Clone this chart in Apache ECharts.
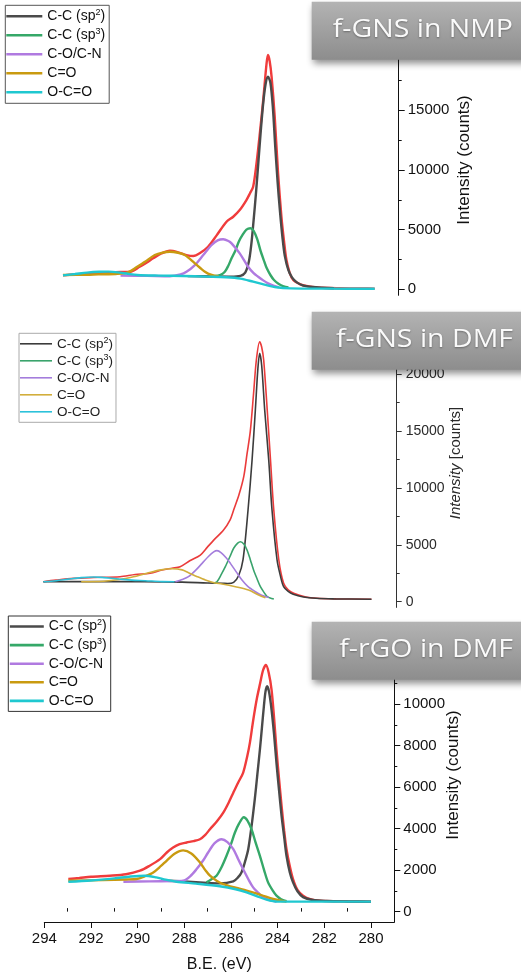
<!DOCTYPE html>
<html>
<head>
<meta charset="utf-8">
<script src="https://cdn.jsdelivr.net/npm/echarts@6/dist/echarts.min.js"></script>
<style>
html,body{margin:0;padding:0;background:#fff;}
#chart{width:521px;height:974px;}
</style>
</head>
<body>
<div id="chart"></div>
<script>
// ---------- DATA (binding energy eV, intensity counts) ----------
const componentNames = ['C-C (sp²)', 'C-C (sp³)', 'C-O/C-N', 'C=O', 'O-C=O'];
const panelTitles = ['f-GNS in NMP', 'f-GNS in DMF', 'f-rGO in DMF'];
const yTitles = ['Intensity (counts)', 'Intensity [counts]', 'Intensity (counts)'];
const xTitle = 'B.E. (eV)';
const xTickLabels = [294, 292, 290, 288, 286, 284, 282, 280];
const yTicks1 = [0, 5000, 10000, 15000];
const yTicks2 = [0, 5000, 10000, 15000, 20000];
const yTicks3 = [0, 2000, 4000, 6000, 8000, 10000];

// Panel 1: f-GNS in NMP
const nmpEnvelope = [[293.0,1170],[292.5,1250],[292.0,1320],[291.46,1390],[291.0,1420],[290.6,1450],[290.2,1475],[289.8,1890],[289.5,2250],[289.24,2600],[288.9,3000],[288.54,3230],[288.2,3100],[287.85,2870],[287.57,2790],[287.3,3015],[286.95,3570],[286.6,4500],[286.18,5660],[285.9,6080],[285.63,6640],[285.35,7480],[285.2,8050],[285.07,8590],[284.93,10550],[284.79,13080],[284.65,15850],[284.51,18930],[284.45,19620],[284.38,19100],[284.3,17800],[284.17,14450],[284.03,9720],[283.89,6080],[283.78,4000],[283.68,2450],[283.55,1400],[283.4,780],[283.1,420],[282.85,280],[282.4,150],[281.5,90],[280.5,70],[280.0,60]];
const nmpSp2 = [[287.8,1110],[286.8,1080],[286.0,1060],[285.6,1130],[285.4,1400],[285.25,2300],[285.15,3700],[285.05,5800],[284.95,8100],[284.85,10700],[284.75,13300],[284.65,15600],[284.55,17200],[284.45,17800],[284.35,17300],[284.25,15300],[284.15,12000],[284.05,9000],[283.95,6500],[283.85,4400],[283.75,2800],[283.6,1600],[283.45,1000],[283.25,580],[283.0,330],[282.6,190],[282.2,130],[281.7,90]];
const nmpSp3 = [[286.7,1100],[286.45,1200],[286.25,1475],[286.1,2000],[285.97,2600],[285.8,3300],[285.67,3990],[285.5,4600],[285.35,5000],[285.18,5110],[285.05,4900],[284.9,4200],[284.75,3150],[284.6,2300],[284.5,1760],[284.35,1200],[284.2,780],[284.0,450],[283.8,250],[283.6,150]];
const nmpCO = [[290.6,1150],[289.5,1130],[288.54,1100],[288.1,1250],[287.85,1475],[287.5,2035],[287.15,2870],[286.8,3710],[286.55,4100],[286.32,4190],[286.1,4050],[285.97,3850],[285.63,3015],[285.28,1890],[285.05,1350],[284.86,1055],[284.65,750],[284.45,500],[284.2,280],[284.0,170]];
const nmpCdO = [[293.0,1200],[292.0,1220],[291.53,1255],[290.8,1290],[290.42,1340],[290.2,1500],[290.0,1760],[289.58,2310],[289.17,2870],[288.85,3080],[288.54,3150],[288.2,3060],[287.92,2870],[287.5,2175],[287.08,1475],[286.8,1200],[286.5,1080]];
const nmpOCO = [[293.0,1170],[292.5,1280],[292.0,1400],[291.5,1470],[291.1,1480],[290.7,1420],[290.3,1300],[289.9,1200],[289.0,1150],[288.0,1120],[287.0,1060],[286.2,1010],[285.6,900],[285.07,640],[284.6,400],[284.1,170],[283.5,80],[282.0,60],[280.0,50]];

// Panel 2: f-GNS in DMF
const dmfEnvelope = [[293.0,1760],[292.5,1900],[291.8,2055],[291.0,2130],[289.96,2200],[289.36,2400],[288.77,2500],[288.3,2790],[287.9,2950],[287.58,3080],[287.2,3600],[286.78,4107],[286.5,4800],[286.25,5420],[285.86,6305],[285.6,7200],[285.46,8065],[285.25,9400],[285.06,11000],[284.93,13000],[284.8,15000],[284.67,18330],[284.56,21260],[284.43,22870],[284.35,22400],[284.27,21260],[284.13,16860],[284.0,12460],[283.87,8065],[283.67,3670],[283.48,1620],[283.3,1050],[283.08,740],[282.6,420],[282.15,300],[281.4,250],[280.0,220]];
const dmfSp2 = [[293.0,1760],[291.0,1770],[289.0,1760],[287.5,1720],[286.5,1650],[285.9,1620],[285.7,1600],[285.46,1700],[285.26,2300],[285.09,3670],[284.89,8065],[284.73,12460],[284.6,16860],[284.5,20500],[284.43,21850],[284.35,20800],[284.23,16860],[284.07,12460],[283.94,8065],[283.74,3670],[283.6,2200],[283.48,1320],[283.3,900],[283.1,650],[282.7,420],[282.2,300],[281.5,250],[280.0,220]];
const dmfSp3 = [[286.25,1640],[286.12,1760],[285.95,2400],[285.79,3080],[285.6,4000],[285.46,4700],[285.3,5150],[285.19,5280],[285.05,5050],[284.93,4550],[284.8,3700],[284.67,2790],[284.53,2000],[284.4,1320],[284.25,800],[284.13,440],[283.95,280],[283.87,250]];
const dmfCO = [[287.77,1760],[287.5,1950],[287.25,2200],[286.95,2800],[286.71,3375],[286.45,4000],[286.25,4380],[286.12,4490],[285.95,4300],[285.75,3850],[285.59,3375],[285.35,2600],[285.13,1910],[284.9,1350],[284.6,880],[284.35,560],[284.07,380]];
const dmfCdO = [[291.5,1760],[290.6,1800],[290.0,1950],[289.43,2200],[288.9,2500],[288.4,2780],[287.9,2900],[287.5,2800],[287.25,2550],[286.9,2200],[286.58,1910],[286.2,1650],[285.92,1560],[285.39,1320],[284.87,1030],[284.47,590],[284.2,350]];
const dmfOCO = [[293.0,1760],[292.5,1850],[292.0,1990],[291.5,2120],[291.0,2180],[290.6,2120],[290.0,2000],[289.5,1900],[288.96,1850],[288.3,1770],[287.8,1760]];

// Panel 3: f-rGO in DMF
const rgoEnvelope = [[292.97,1570],[292.5,1620],[292.0,1680],[291.19,1730],[290.5,1800],[289.9,1970],[289.5,2200],[289.04,2530],[288.75,2850],[288.48,3090],[288.2,3250],[287.9,3330],[287.6,3400],[287.33,3490],[287.1,3700],[286.9,3970],[286.6,4350],[286.33,4770],[286.1,5250],[285.9,5730],[285.7,6200],[285.48,6690],[285.3,7500],[285.19,8130],[285.05,9200],[284.9,10210],[284.75,11000],[284.62,11645],[284.5,11885],[284.38,11500],[284.26,10685],[284.15,9300],[284.05,7805],[283.94,6400],[283.83,5085],[283.72,3900],[283.62,3010],[283.48,2200],[283.34,1570],[283.15,1050],[282.91,770],[282.6,600],[282.19,530],[281.0,500],[280.0,480]];
const rgoSp2 = [[289.0,1500],[288.0,1450],[287.0,1380],[286.48,1360],[285.9,1460],[285.7,1650],[285.55,1890],[285.4,2400],[285.26,3010],[285.12,4100],[284.98,5410],[284.87,6600],[284.76,7805],[284.67,8900],[284.59,9885],[284.52,10600],[284.45,10860],[284.37,10600],[284.26,9725],[284.15,8500],[284.05,7170],[283.94,5850],[283.83,4605],[283.72,3600],[283.62,2690],[283.48,1900],[283.34,1410],[283.15,980],[282.91,700],[282.5,560],[281.9,510],[281.0,490],[280.0,480]];
const rgoSp3 = [[287.05,1410],[286.85,1550],[286.62,1730],[286.4,2150],[286.19,2690],[286.0,3250],[285.83,3810],[285.65,4250],[285.45,4550],[285.3,4400],[285.12,3970],[284.95,3350],[284.76,2690],[284.58,2000],[284.41,1410],[284.2,1000],[284.05,770],[283.85,600],[283.62,500]];
const rgoCO = [[290.61,1440],[289.5,1460],[288.5,1470],[288.05,1490],[287.75,1700],[287.47,2050],[287.2,2450],[286.98,2850],[286.7,3300],[286.4,3490],[286.15,3350],[285.9,3010],[285.7,2550],[285.48,2050],[285.25,1550],[285.05,1170],[284.82,900],[284.62,690],[284.3,540],[284.05,480]];
const rgoCdO = [[292.97,1490],[291.5,1520],[290.5,1550],[290.04,1570],[289.7,1700],[289.33,1890],[289.0,2200],[288.76,2450],[288.4,2800],[288.05,2950],[287.7,2800],[287.33,2370],[287.1,2000],[286.9,1730],[286.6,1480],[286.33,1330],[285.8,1150],[285.33,1010],[284.7,800],[284.19,610],[283.62,480]];
const rgoOCO = [[292.97,1440],[292.0,1500],[291.0,1600],[290.3,1690],[289.7,1730],[289.2,1650],[288.8,1540],[288.33,1440],[287.5,1350],[286.48,1220],[285.8,1080],[285.33,930],[284.9,750],[284.48,575],[284.0,480],[282.0,480],[280.0,480]];

// ---------- STYLE ----------
const FONT = '"Liberation Sans", Arial, Helvetica, sans-serif';
const colsA = { env:'#f03c3c', c:['#4a4a4a','#35a868','#b07ae0','#c99a10','#1fc8d0'] };
const colsB = { env:'#ea3b3b', c:['#3c3c3c','#3aa36c','#a47ddc','#d2ae3c','#2cc2da'] };

const panels = [
  { key:'a', grid:{left:39, right:122.3, top:56.5, height:238.8}, ymin:-500, ymax:19500, major:yTicks1, minor:[2500,7500,12500,17500],
    lw:2.4, cols:colsA, curves:[nmpEnvelope,nmpSp2,nmpSp3,nmpCO,nmpCdO,nmpOCO], tickLen:[6,3], labSize:15, labColor:'#111' },
  { key:'b', grid:{left:18.1, right:124.3, top:340.2, height:267.2}, ymin:-500, ymax:23000, major:yTicks2, minor:[2500,7500,12500,17500,22500],
    lw:1.6, cols:colsB, curves:[dmfEnvelope,dmfSp2,dmfSp3,dmfCO,dmfCdO,dmfOCO], tickLen:[5,3], labSize:14, labColor:'#2a2a2a' },
  { key:'c', grid:{left:44.3, right:126.7, top:662.6, height:260.5}, ymin:-500, ymax:12000, major:yTicks3, minor:[1000,3000,5000,7000,9000,11000],
    lw:2.4, cols:colsA, curves:[rgoEnvelope,rgoSp2,rgoSp3,rgoCO,rgoCdO,rgoOCO], tickLen:[6,3], labSize:15, labColor:'#111' }
];

const grids = [], xAxes = [], yAxes = [], series = [], legends = [];
panels.forEach((p, i) => {
  grids.push(p.grid);
  const axColor = i === 1 ? '#333' : '#111';
  const xMainIdx = xAxes.length;
  xAxes.push({ type:'value', gridIndex:i, min:279, max:294, inverse:true, show: i === 2,
    axisLine:{ show:true, onZero:false, lineStyle:{color:axColor, width:1} },
    axisTick:{ show:true, length:6, customValues:xTickLabels, lineStyle:{color:axColor} },
    axisLabel:{ show:true, customValues:xTickLabels, margin:9, fontSize:15, fontFamily:FONT, color:'#111', formatter:v=>String(v) },
    splitLine:{show:false},
    name: i === 2 ? xTitle : '', nameLocation:'middle', nameGap:35,
    nameTextStyle:{ fontSize:16, fontFamily:FONT, color:'#111' } });
  if (i === 2) {
    xAxes.push({ type:'value', gridIndex:i, min:279, max:294, inverse:true,
      axisLine:{show:false}, axisLabel:{show:false}, splitLine:{show:false},
      axisTick:{ show:true, length:3.5, customValues:[293,291,289,287,285,283,281], lineStyle:{color:axColor} } });
  }
  const yMainIdx = yAxes.length;
  yAxes.push({ type:'value', gridIndex:i, min:p.ymin, max:p.ymax, position:'right',
    axisLine:{ show:true, onZero:false, lineStyle:{color:axColor, width:1} },
    axisTick:{ show:true, length:p.tickLen[0], customValues:p.major, lineStyle:{color:axColor} },
    axisLabel:{ show:true, customValues:p.major, margin:9, fontSize:p.labSize, fontFamily:FONT, color:p.labColor, formatter:v=>String(v) },
    splitLine:{show:false} });
  yAxes.push({ type:'value', gridIndex:i, min:p.ymin, max:p.ymax, position:'right',
    axisLine:{show:false}, axisLabel:{show:false}, splitLine:{show:false},
    axisTick:{ show:true, length:p.tickLen[1], customValues:p.minor, lineStyle:{color:axColor} } });

  series.push({ name:p.key+':Envelope', type:'line', xAxisIndex:xMainIdx, yAxisIndex:yMainIdx,
    data:p.curves[0], showSymbol:false, symbol:'none', smooth:0.3, silent:true, clip:false,
    lineStyle:{ color:p.cols.env, width:p.lw }, itemStyle:{color:p.cols.env}, z:2 });
  componentNames.forEach((n, k) => {
    series.push({ name:p.key+':'+n, type:'line', xAxisIndex:xMainIdx, yAxisIndex:yMainIdx,
      data:p.curves[k+1], showSymbol:false, symbol:'none', smooth:0.3, silent:true, clip:false,
      lineStyle:{ color:p.cols.c[k], width:p.lw }, itemStyle:{color:p.cols.c[k]}, z:3+k });
  });
});

function legendFmt(name) {
  const n = name.slice(2);
  return n.replace('²', '{s|2}').replace('³', '{s|3}');
}
const legendSpecs = [
  { key:'a', left:5.3, top:5.3, iw:36, lh:16, gap:3, fs:14, pad:[3,4,3,1], border:'#555', color:'#111', bw:1, ih:2.6 },
  { key:'b', left:19, top:333.3, iw:32, lh:15, gap:2, fs:13.5, pad:[3,3,3,1], border:'#aaa', color:'#222', bw:1, ih:1.6 },
  { key:'c', left:8.3, top:616, iw:34, lh:16, gap:2.6, fs:14, pad:[2.5,4,2.5,1.5], border:'#333', color:'#111', bw:1, ih:2.6 }
];
legendSpecs.forEach(L => {
  legends.push({ show:true, orient:'vertical', left:L.left, top:L.top, padding:L.pad,
    data: componentNames.map(n => L.key+':'+n), icon:'rect', itemWidth:L.iw, itemHeight:L.ih, itemGap:L.gap,
    borderColor:L.border, borderWidth:L.bw, backgroundColor:'#fff', selectedMode:false,
    formatter: legendFmt,
    textStyle:{ fontSize:L.fs, fontFamily:FONT, color:L.color, lineHeight:L.lh,
      rich:{ s:{ fontSize:9, fontFamily:FONT, color:L.color, verticalAlign:'top', lineHeight:L.lh } } } });
});

const boxTops = [1.7, 311.7, 621.7];
const graphics = [];
boxTops.forEach((t, i) => {
  graphics.push({ type:'rect', z:100, shape:{ x:311.7, y:t, width:215, height:58 },
    style:{ fill: new echarts.graphic.LinearGradient(0,0,0,1,[{offset:0,color:'#b3b3b3'},{offset:1,color:'#8d8d8d'}]),
      shadowBlur:7, shadowOffsetX:1, shadowOffsetY:4, shadowColor:'rgba(0,0,0,0.45)' } });
  graphics.push({ type:'text', z:101, x:513, y:t+28.5, scaleX:1.14,
    style:{ text:panelTitles[i], font:'25px "Open Sans", "Noto Sans", sans-serif', fill:'#fafafa', align:'right', verticalAlign:'middle',
      textShadowColor:'rgba(0,0,0,0.35)', textShadowBlur:2, textShadowOffsetY:1 } });
});
const yTitlePos = [[464,160,17,'#111'],[456,463,15,'#2a2a2a'],[453,775,17,'#111']];
yTitlePos.forEach((pp, i) => {
  const txt = i === 1 ? '{it|Intensity} [counts]' : yTitles[i];
  graphics.push({ type:'text', z:50, x:pp[0], y:pp[1], rotation:Math.PI/2,
    style:{ text:txt, fontSize:pp[2], fontFamily:FONT, fill:pp[3], align:'center', verticalAlign:'middle',
      rich:{ it:{ fontSize:pp[2], fontFamily:FONT, fontStyle:'italic', fill:pp[3] } } } });
});

const chart = echarts.init(document.getElementById('chart'), null, { renderer:'canvas' });
chart.setOption({
  animation:false,
  backgroundColor:'#fff',
  grid:grids, xAxis:xAxes, yAxis:yAxes, series:series, legend:legends,
  graphic:graphics
});
</script>
</body>
</html>
